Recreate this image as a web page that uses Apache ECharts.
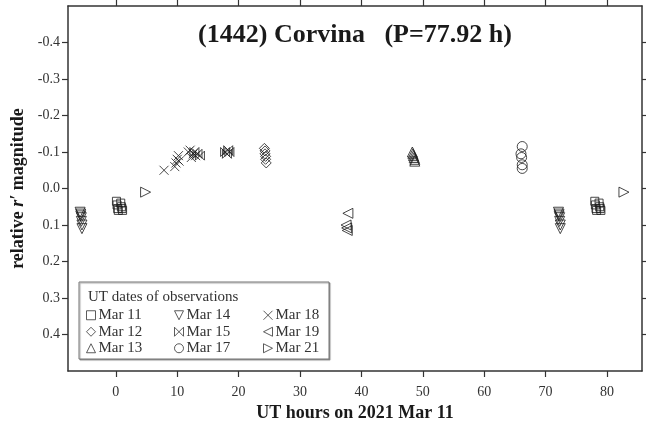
<!DOCTYPE html>
<html>
<head>
<meta charset="utf-8">
<script src="https://cdn.jsdelivr.net/npm/echarts@6/dist/echarts.min.js"></script>
<style>
  html, body { margin: 0; padding: 0; background: #fff; }
  #chart { width: 646px; height: 422px; }
</style>
</head>
<body>
<div id="chart"></div>
<script>
// Rotation period (hours) used to fold the light curve
const PERIOD = 77.92;

// Tick positions
const xTicks = [0, 10, 20, 30, 40, 50, 60, 70, 80];
const yTicks = [-0.4, -0.3, -0.2, -0.1, 0.0, 0.1, 0.2, 0.3, 0.4];

// Observation nights (legend order)
const dates = ['Mar 11', 'Mar 12', 'Mar 13', 'Mar 14', 'Mar 15', 'Mar 17', 'Mar 18', 'Mar 19', 'Mar 21'];

// [UT hours since 2021 Mar 11 0h (folded), relative r' magnitude]
const mar11 = [[0.1, 0.035], [0.2, 0.045], [0.3, 0.055], [0.4, 0.060], [0.8, 0.040], [0.9, 0.050], [1.0, 0.055], [1.1, 0.060]];
const mar12 = [[24.2, -0.110], [24.3, -0.103], [24.3, -0.095], [24.4, -0.088], [24.4, -0.080], [24.5, -0.070]];
const mar13 = [[48.3, -0.100], [48.4, -0.095], [48.5, -0.090], [48.6, -0.085], [48.7, -0.080], [48.7, -0.075]];
const mar14 = [[72.1, 0.065], [72.2, 0.070], [72.2, 0.075], [72.3, 0.080], [72.3, 0.090], [72.4, 0.100], [72.4, 0.110]];
const mar15 = [[12.8, -0.100], [13.3, -0.095], [13.7, -0.090], [17.8, -0.100], [18.1, -0.095], [18.3, -0.105], [18.5, -0.100]];
const mar17 = [[66.2, -0.115], [66.0, -0.095], [66.1, -0.085], [66.2, -0.065], [66.2, -0.055]];
const mar18 = [[7.85, -0.050], [9.6, -0.060], [9.8, -0.070], [10.0, -0.080], [10.2, -0.090], [10.3, -0.075],
               [11.8, -0.100], [12.1, -0.105], [12.3, -0.085], [12.6, -0.095], [13.0, -0.090]];
const mar19 = [[37.8, 0.068], [37.5, 0.100], [37.6, 0.108], [37.7, 0.115]];
const mar21 = [[4.85, 0.010]];

const nights = [mar11, mar12, mar13, mar14, mar15, mar17, mar18, mar19, mar21];

// Plotted time span: one period with a 10% margin on each side
const X_MIN = -0.1 * PERIOD;
const X_MAX = 1.1 * PERIOD;

// Repeat each point one period earlier/later when it falls inside the span
function fold(points) {
  const out = [];
  points.forEach(([t, m]) => {
    [t - PERIOD, t, t + PERIOD].forEach(s => {
      if (s >= X_MIN && s <= X_MAX) out.push([s, m]);
    });
  });
  return out;
}

const FONT = 'Liberation Serif';
const INK = '#1a1a1a';

// Open markers, one per night
const markers = [
  { symbol: 'rect', size: 8 },
  { symbol: 'diamond', size: 10 },
  { symbol: 'path://M5,0L10,10L0,10Z', size: 10 },        // up triangle
  { symbol: 'path://M0,0L10,0L5,10Z', size: 10 },         // down triangle
  { symbol: 'path://M0,0L10,10L10,0L0,10Z', size: 9 },    // bowtie
  { symbol: 'circle', size: 10 },
  { symbol: 'path://M0,0L10,10M10,0L0,10', size: 9 },     // cross
  { symbol: 'path://M10,0L10,10L0,5Z', size: 10 },        // left triangle
  { symbol: 'path://M0,0L0,10L10,5Z', size: 10 }          // right triangle
];

const series = nights.map((pts, i) => ({
  name: dates[i],
  type: 'scatter',
  xAxisIndex: 0,
  yAxisIndex: 0,
  data: fold(pts),
  symbol: markers[i].symbol,
  symbolSize: markers[i].size,
  itemStyle: { color: 'rgba(255,255,255,0)', borderColor: INK, borderWidth: 1 },
  emphasis: { disabled: true },
  z: 3
}));

const tickLabel = { fontFamily: FONT, fontSize: 14, color: '#333' };
const frameLine = { show: true, onZero: false, lineStyle: { color: '#333', width: 1.5 } };
const frameTick = { show: true, inside: false, length: 6, lineStyle: { color: '#333', width: 1.2 } };

const chart = echarts.init(document.getElementById('chart'), null, { renderer: 'canvas' });

chart.setOption({
  animation: false,
  backgroundColor: '#fff',
  grid: { left: 68, right: 4, top: 6, bottom: 51, containLabel: false, outerBoundsMode: 'none' },
  xAxis: [
    {
      type: 'value', position: 'bottom', min: X_MIN, max: X_MAX,
      axisLine: frameLine,
      axisTick: Object.assign({ customValues: xTicks }, frameTick),
      axisLabel: Object.assign({ customValues: xTicks, margin: 14, formatter: v => String(Math.round(v)) }, tickLabel),
      splitLine: { show: false },
      name: 'UT hours on 2021 Mar 11',
      nameLocation: 'middle',
      nameGap: 29,
      nameTextStyle: { fontFamily: FONT, fontSize: 18, fontWeight: 'bold', color: INK }
    },
    {
      type: 'value', position: 'top', min: X_MIN, max: X_MAX,
      axisLine: frameLine,
      axisTick: Object.assign({ customValues: xTicks }, frameTick),
      axisLabel: { show: false },
      splitLine: { show: false }
    }
  ],
  yAxis: [
    {
      type: 'value', position: 'left', min: -0.5, max: 0.5, inverse: true,
      axisLine: frameLine,
      axisTick: Object.assign({ customValues: yTicks }, frameTick),
      axisLabel: Object.assign({ customValues: yTicks, margin: 8, formatter: v => v.toFixed(1) }, tickLabel),
      splitLine: { show: false },
      name: '{b|relative }{i|r\u2032}{b| magnitude}',
      nameLocation: 'middle',
      nameGap: 39,
      nameTextStyle: {
        rich: {
          b: { fontFamily: FONT, fontSize: 18, fontWeight: 'bold', color: INK },
          i: { fontFamily: FONT, fontSize: 18, fontWeight: 'bold', fontStyle: 'italic', color: INK }
        }
      }
    },
    {
      type: 'value', position: 'right', min: -0.5, max: 0.5, inverse: true,
      axisLine: frameLine,
      axisTick: Object.assign({ customValues: yTicks }, frameTick),
      axisLabel: { show: false },
      splitLine: { show: false }
    }
  ],
  legend: [0, 1, 2].map(c => ({
    orient: 'vertical',
    left: [86, 174, 263][c],
    top: 307,
    itemGap: 0,
    itemWidth: 9,
    itemHeight: 9,
    padding: 0,
    selectedMode: false,
    data: dates.slice(c * 3, c * 3 + 3),
    textStyle: { fontFamily: FONT, fontSize: 15, color: '#333', lineHeight: 16.5, padding: [0, 0, 0, -2] },
    itemStyle: { borderColor: '#333', borderWidth: 1 }
  })),
  graphic: [
    {
      type: 'rect', z: 2,
      shape: { x: 79, y: 282, width: 250, height: 77 },
      style: { fill: '#fff', stroke: '#777', lineWidth: 1, shadowColor: 'rgba(0,0,0,0.35)', shadowOffsetX: 1, shadowOffsetY: 1, shadowBlur: 1 }
    },
    {
      type: 'text', z: 5, x: 88, y: 297,
      style: { text: 'UT dates of observations', fontFamily: FONT, fontSize: 15, fill: '#333', verticalAlign: 'middle' }
    },
    {
      type: 'text', z: 5, x: 355, y: 35,
      style: { text: '(1442) Corvina   (P=77.92 h)', fontFamily: FONT, fontSize: 26, fontWeight: 'bold', fill: INK, align: 'center', verticalAlign: 'middle' }
    }
  ],
  series: series
});
</script>
</body>
</html>
